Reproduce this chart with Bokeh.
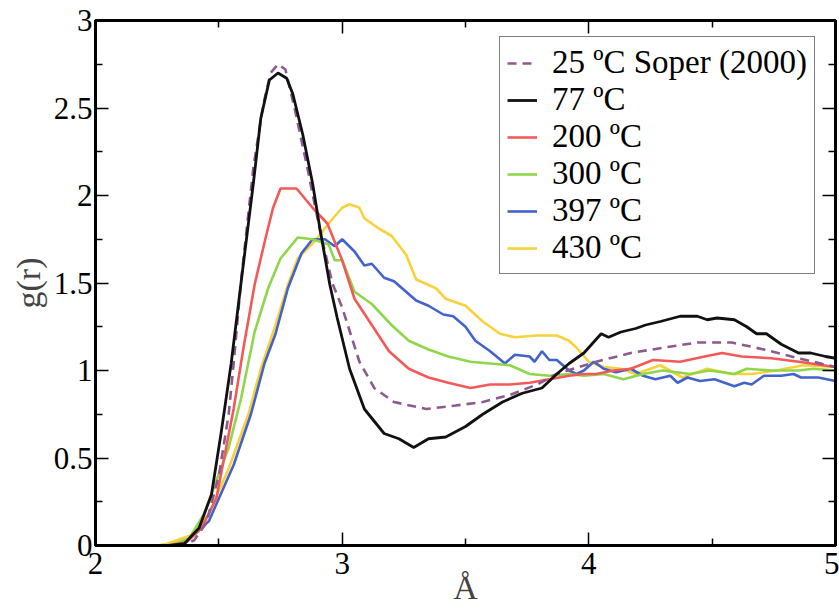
from bokeh.plotting import figure
from bokeh.models import (Range1d, LinearAxis, FixedTicker, CustomJSTickFormatter,
                          Legend, LegendItem)
from bokeh.embed import file_html
from bokeh.resources import INLINE

FONT = "Liberation Serif"

# ---- tick values ----
x_major = [2, 3, 4, 5]
x_minor = [2.5, 3.5, 4.5]
y_major = [0, 0.5, 1, 1.5, 2, 2.5, 3]
y_minor = [0.25, 0.75, 1.25, 1.75, 2.25, 2.75]

# ---- series (r in Angstrom, g(r)) ----
x25 = [2.33, 2.37, 2.40, 2.45, 2.50, 2.54, 2.56, 2.59, 2.64, 2.68, 2.71, 2.74, 2.77, 2.81, 2.86,
       2.91, 2.96, 3.00, 3.07, 3.13, 3.21, 3.34, 3.46, 3.57, 3.68, 3.79, 3.87, 3.96, 4.03, 4.17,
       4.30, 4.44, 4.58, 4.71, 4.85, 5.00]
y25 = [0.00, 0.01, 0.03, 0.13, 0.40, 0.75, 1.04, 1.51, 2.16, 2.52, 2.70, 2.75, 2.72, 2.48, 2.15,
       1.80, 1.50, 1.36, 1.05, 0.90, 0.82, 0.78, 0.80, 0.82, 0.86, 0.92, 0.98, 1.02, 1.05, 1.10,
       1.13, 1.16, 1.16, 1.12, 1.07, 1.02]

x77 = [2.30, 2.36, 2.42, 2.47, 2.51, 2.55, 2.59, 2.64, 2.67, 2.705, 2.74, 2.775, 2.80, 2.84, 2.88,
       2.91, 2.95, 2.98, 3.03, 3.09, 3.17, 3.23, 3.29, 3.35, 3.42, 3.50, 3.57, 3.65, 3.73, 3.81,
       3.87, 3.92, 3.98, 4.05, 4.08, 4.13, 4.19, 4.23, 4.29, 4.37, 4.44, 4.48, 4.52, 4.59, 4.64,
       4.68, 4.72, 4.78, 4.85, 4.90, 4.96, 5.00]
y77 = [0.00, 0.01, 0.10, 0.29, 0.65, 1.04, 1.50, 2.07, 2.44, 2.66, 2.70, 2.67, 2.58, 2.35, 2.07,
       1.81, 1.49, 1.30, 1.01, 0.78, 0.64, 0.61, 0.56, 0.61, 0.62, 0.68, 0.75, 0.82, 0.87, 0.90,
       0.98, 1.04, 1.10, 1.21, 1.19, 1.22, 1.24, 1.26, 1.28, 1.31, 1.31, 1.29, 1.30, 1.29, 1.25,
       1.21, 1.21, 1.15, 1.10, 1.10, 1.08, 1.07]

x200 = [2.30, 2.37, 2.43, 2.49, 2.56, 2.60, 2.645, 2.69, 2.72, 2.75, 2.815, 2.88, 2.94, 3.00, 3.05,
        3.12, 3.19, 3.27, 3.35, 3.43, 3.52, 3.60, 3.68, 3.76, 3.84, 3.92, 3.98, 4.03, 4.10, 4.17,
        4.26, 4.37, 4.47, 4.54, 4.62, 4.74, 4.85, 5.00]
y200 = [0.00, 0.02, 0.10, 0.27, 0.78, 1.13, 1.49, 1.76, 1.93, 2.04, 2.04, 1.93, 1.84, 1.63, 1.41,
        1.26, 1.11, 1.01, 0.96, 0.93, 0.90, 0.92, 0.92, 0.93, 0.95, 0.97, 0.98, 0.98, 1.00, 1.01,
        1.06, 1.05, 1.08, 1.10, 1.08, 1.07, 1.05, 1.02]

x300 = [2.30, 2.38, 2.44, 2.54, 2.59, 2.645, 2.70, 2.75, 2.82, 2.88, 2.945, 2.97, 3.00, 3.05, 3.12,
        3.20, 3.27, 3.35, 3.43, 3.52, 3.60, 3.68, 3.76, 3.84, 3.92, 3.98, 4.06, 4.14, 4.22, 4.30,
        4.41, 4.49, 4.59, 4.64, 4.74, 4.85, 4.91, 5.00]
y300 = [0.00, 0.04, 0.18, 0.56, 0.84, 1.22, 1.47, 1.64, 1.76, 1.75, 1.72, 1.63, 1.63, 1.45, 1.38,
        1.26, 1.17, 1.12, 1.08, 1.05, 1.04, 1.03, 0.98, 0.97, 0.98, 0.97, 0.98, 0.95, 0.98, 1.00,
        0.98, 1.00, 0.98, 1.01, 1.00, 1.00, 1.01, 1.00]

x397 = [2.28, 2.36, 2.46, 2.56, 2.63, 2.685, 2.73, 2.78, 2.835, 2.88, 2.93, 2.97, 3.00, 3.05, 3.09,
        3.12, 3.17, 3.21, 3.30, 3.35, 3.41, 3.45, 3.50, 3.54, 3.60, 3.66, 3.70, 3.76, 3.78, 3.81,
        3.84, 3.87, 3.92, 3.95, 3.98, 4.02, 4.06, 4.11, 4.17, 4.22, 4.27, 4.33, 4.36, 4.40, 4.45,
        4.51, 4.59, 4.63, 4.66, 4.71, 4.78, 4.83, 4.86, 4.93, 5.00]
y397 = [0.00, 0.01, 0.14, 0.46, 0.75, 1.04, 1.21, 1.47, 1.67, 1.75, 1.75, 1.71, 1.75, 1.68, 1.60,
        1.61, 1.53, 1.51, 1.40, 1.37, 1.32, 1.31, 1.25, 1.17, 1.11, 1.04, 1.09, 1.08, 1.05, 1.11,
        1.06, 1.06, 1.00, 0.98, 1.00, 1.05, 1.01, 0.99, 1.01, 0.97, 0.95, 0.97, 0.93, 0.96, 0.94,
        0.95, 0.91, 0.93, 0.92, 0.97, 0.97, 0.98, 0.96, 0.96, 0.94]

x430 = [2.25, 2.29, 2.39, 2.46, 2.54, 2.62, 2.67, 2.73, 2.78, 2.82, 2.89, 2.945, 3.00, 3.03, 3.07,
        3.09, 3.15, 3.20, 3.26, 3.30, 3.38, 3.42, 3.50, 3.57, 3.64, 3.70, 3.79, 3.87, 3.92, 3.95,
        4.00, 4.06, 4.13, 4.19, 4.29, 4.38, 4.48, 4.58, 4.66, 4.76, 4.87, 5.00]
y430 = [0.00, 0.01, 0.06, 0.18, 0.44, 0.75, 1.01, 1.26, 1.49, 1.64, 1.74, 1.84, 1.93, 1.95, 1.93,
        1.87, 1.81, 1.77, 1.66, 1.52, 1.47, 1.41, 1.37, 1.28, 1.21, 1.19, 1.20, 1.20, 1.17, 1.13,
        1.05, 1.02, 1.01, 0.98, 1.03, 0.96, 1.01, 0.98, 0.98, 1.00, 1.03, 1.02]

labels = ["25 \u00baC Soper (2000)", "77 \u00baC", "200 \u00baC", "300 \u00baC", "397 \u00baC", "430 \u00baC"]
colors = ["#8c5a8e", "#111111", "#f25a58", "#8fd64a", "#4262cc", "#f7d23c"]

p = figure(width=839, height=614, output_backend="svg", toolbar_location=None,
           x_range=Range1d(2, 5), y_range=Range1d(0, 3),
           min_border_left=95, min_border_right=4, min_border_top=20, min_border_bottom=69)
p.grid.visible = False
p.outline_line_color = "black"
p.outline_line_width = 3
p.background_fill_color = "white"
p.border_fill_color = "white"

def style_axis(ax, show_labels):
    ax.axis_line_width = 3
    ax.axis_line_color = "black"
    ax.major_tick_in = 13
    ax.major_tick_out = 0
    ax.minor_tick_in = 7
    ax.minor_tick_out = 0
    ax.major_tick_line_width = 1.5
    ax.minor_tick_line_width = 1.5
    ax.major_label_text_font = FONT
    ax.major_label_text_color = "black"
    ax.major_label_text_font_size = "31px"
    if show_labels:
        ax.formatter = CustomJSTickFormatter(code="return tick.toString()")
    else:
        ax.formatter = CustomJSTickFormatter(code="return ''")
        ax.major_label_standoff = 0

xa = p.xaxis[0]
xa.ticker = FixedTicker(ticks=x_major, minor_ticks=x_minor)
style_axis(xa, True)
xa.major_label_standoff = 7
xa.axis_label = "\u00c5"
xa.axis_label_text_font = FONT
xa.axis_label_text_font_size = "34px"
xa.axis_label_text_font_style = "normal"
xa.axis_label_standoff = -8

ya = p.yaxis[0]
ya.ticker = FixedTicker(ticks=y_major, minor_ticks=y_minor)
style_axis(ya, True)
ya.major_label_standoff = 3
ya.axis_label = "g(r)"
ya.axis_label_text_font = FONT
ya.axis_label_text_font_size = "34px"
ya.axis_label_text_font_style = "normal"
ya.axis_label_standoff = 4

top = LinearAxis(ticker=FixedTicker(ticks=x_major, minor_ticks=x_minor))
style_axis(top, False)
p.add_layout(top, "above")
right = LinearAxis(ticker=FixedTicker(ticks=y_major, minor_ticks=y_minor))
style_axis(right, False)
p.add_layout(right, "right")

series = [(x25, y25), (x77, y77), (x200, y200), (x300, y300), (x397, y397), (x430, y430)]
renderers = [None] * 6
for i in [5, 4, 3, 2, 0, 1]:
    xs, ys = series[i]
    kw = dict(line_color=colors[i], line_width=2.6)
    if i == 0:
        kw["line_dash"] = "9 6"
    if i == 1:
        kw["line_width"] = 2.8
    renderers[i] = p.line(xs, ys, **kw)

legend = Legend(items=[LegendItem(label=labels[i], renderers=[renderers[i]]) for i in range(6)],
                location=(404, 271))
legend.label_text_font = FONT
legend.label_text_font_size = "33px"
legend.label_text_color = "black"
legend.glyph_width = 30
legend.glyph_height = 28
legend.label_height = 28
legend.label_standoff = 15
legend.spacing = 0
legend.padding = 7
legend.margin = 0
legend.border_line_color = "black"
legend.border_line_width = 1.5
legend.background_fill_color = "white"
legend.background_fill_alpha = 1
p.add_layout(legend)

open("out.html", "w").write(file_html(p, INLINE))
